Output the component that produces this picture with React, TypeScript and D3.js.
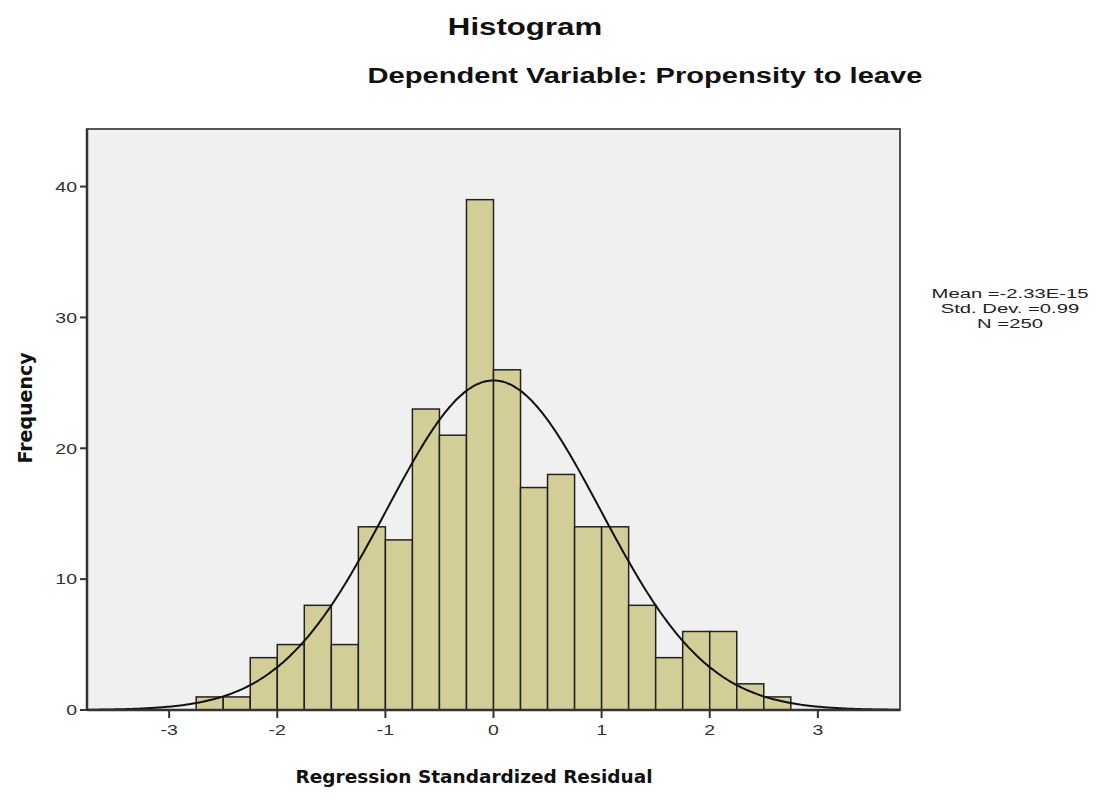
import React from "react";
import * as d3 from "d3";

const binStarts = [-2.75, -2.5, -2.25, -2, -1.75, -1.5, -1.25, -1, -0.75, -0.5, -0.25, 0, 0.25, 0.5, 0.75, 1, 1.25, 1.5, 1.75, 2, 2.25, 2.5];
const counts = [1, 1, 4, 5, 8, 5, 14, 13, 23, 21, 39, 26, 17, 18, 14, 14, 8, 4, 6, 6, 2, 1];
const binWidth = 0.25;
const xTicks = [-3, -2, -1, 0, 1, 2, 3];
const yTicks = [0, 10, 20, 30, 40];
const stats = { mean: 0, sd: 0.99, n: 250 };
const statLines = ["Mean =-2.33E-15", "Std. Dev. =0.99", "N =250"];

export default function App() {
  const W = 1096, H = 803;
  const left = 87, right = 900, top = 129, bottom = 710;
  const sx = 1.3;
  const x = d3.scaleLinear().domain([-3.76, 3.76]).range([left, right]);
  const y = d3.scaleLinear().domain([0, 44.4]).range([bottom, top]);
  const pdf = (v: number) => (1 / (stats.sd * Math.sqrt(2 * Math.PI))) * Math.exp(-0.5 * ((v - stats.mean) / stats.sd) ** 2);
  const curvePts = d3.range(-3.76, 3.7601, 0.02).map((v) => [v, stats.n * binWidth * pdf(v)] as [number, number]);
  const line = d3.line<[number, number]>().x((d) => x(d[0])).y((d) => y(d[1])).curve(d3.curveBasis);
  const font = "'Liberation Sans', Arial, sans-serif";
  const st = (tx: number, ty: number, s = sx) => `translate(${tx},${ty}) scale(${s},1)`;
  return (
    <svg width={W} height={H} style={{ position: "absolute", left: 0, top: 0, background: "#fff" }}>
      <rect x={left} y={top} width={right - left} height={bottom - top} fill="#f0f0f0" />
      {binStarts.map((b, i) => (
        <rect key={i} x={x(b)} y={y(counts[i])} width={x(b + binWidth) - x(b)} height={y(0) - y(counts[i])}
          fill="#d3ce97" stroke="#222" strokeWidth={1.5} />
      ))}
      <path d={line(curvePts) || ""} fill="none" stroke="#111" strokeWidth={2} />
      <rect x={left} y={top} width={right - left} height={bottom - top} fill="none" stroke="#555" strokeWidth={2} />
      <line x1={left} x2={left} y1={top} y2={bottom} stroke="#333" strokeWidth={2.5} />
      <line x1={left} x2={right} y1={bottom} y2={bottom} stroke="#333" strokeWidth={2.5} />
      {yTicks.map((t) => (
        <g key={t}>
          <line x1={left - 7} x2={left} y1={y(t)} y2={y(t)} stroke="#333" strokeWidth={2} />
          <text transform={st(left - 10, y(t))} dy="0.35em" textAnchor="end" fontFamily={font} fontSize={15} fill="#333">{t}</text>
        </g>
      ))}
      {xTicks.map((t) => (
        <g key={t}>
          <line x1={x(t)} x2={x(t)} y1={bottom} y2={bottom + 8} stroke="#333" strokeWidth={2} />
          <text transform={st(x(t), bottom + 25)} textAnchor="middle" fontFamily={font} fontSize={15} fill="#333">{t}</text>
        </g>
      ))}
      <text transform={st(525, 35)} textAnchor="middle" fontFamily={font} fontWeight="bold" fontSize={24} fill="#111">Histogram</text>
      <text transform={st(645, 83)} textAnchor="middle" fontFamily={font} fontWeight="bold" fontSize={22.4} fill="#111">Dependent Variable: Propensity to leave</text>
      <text x={474} y={783} textAnchor="middle" fontFamily="'DejaVu Sans', Verdana, sans-serif" fontWeight="bold" fontSize={18.5} fill="#111">Regression Standardized Residual</text>
      <text transform={`translate(32,408) rotate(-90)`} textAnchor="middle" fontFamily="'DejaVu Sans', Verdana, sans-serif" fontWeight="bold" fontSize={19} fill="#111">Frequency</text>
      {statLines.map((s, i) => (
        <text key={i} transform={st(1010, 298 + i * 15, 1.5)} textAnchor="middle" fontFamily={font} fontSize={13.5} fill="#222">{s}</text>
      ))}
    </svg>
  );
}
